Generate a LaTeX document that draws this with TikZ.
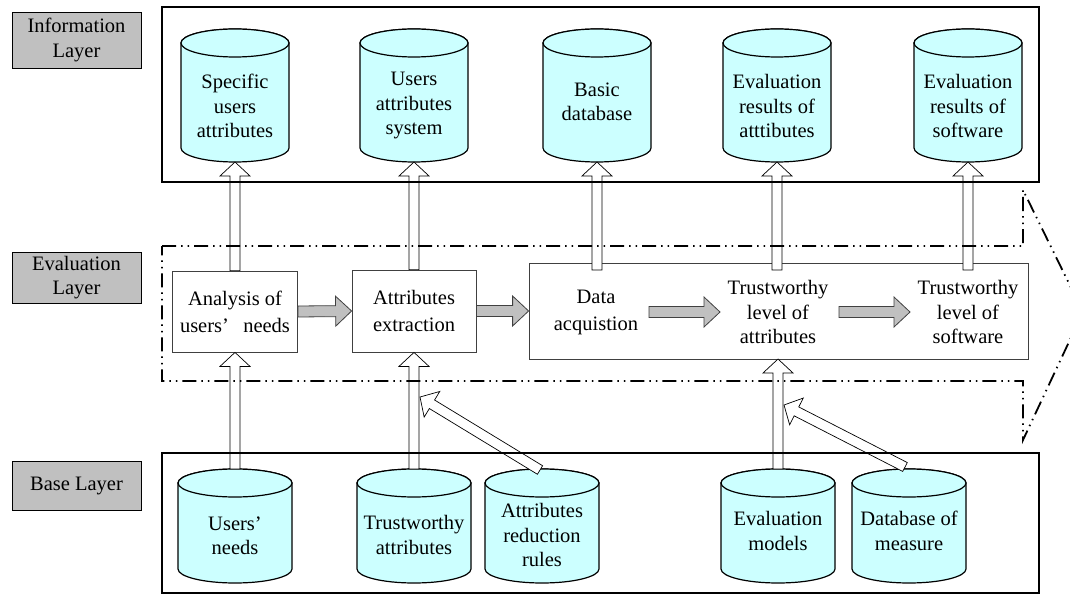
\documentclass[tikz,border=0pt]{standalone}
\usepackage{fontspec}
\setmainfont{Liberation Serif}
\usetikzlibrary{calc}
\definecolor{cylfill}{HTML}{CCFFFF}
\definecolor{lblgray}{HTML}{C0C0C0}
\definecolor{boxline}{HTML}{404040}
\tikzset{
  tfont/.style={font=\fontsize{20.5}{24.5}\selectfont},
  wfont/.style={font=\fontsize{20.5}{27}\selectfont},
  lbl/.style={draw=black, line width=0.8pt, fill=lblgray, minimum width=129pt, align=center, inner sep=0pt, tfont},
  ibox/.style={draw=boxline, line width=0.8pt, fill=white, align=center, inner sep=0pt, wfont},
  txt/.style={align=center, inner sep=0pt, tfont},
  ctext/.style={align=center, inner sep=0pt, tfont},
  cylst/.style={draw=black, line width=1.2pt, fill=cylfill},
  frame/.style={draw=black, line width=1.8pt},
  dashdot/.style={draw=black, line width=1.8pt, dash pattern=on 14pt off 5pt on 1.5pt off 5pt on 1.5pt off 5pt},
  warr/.style={draw=black, line width=0.7pt, fill=white},
  garr/.style={draw=boxline, line width=0.8pt, fill=lblgray},
}
\newcommand\dbcyl[5]{%
  \draw[cylst] ({#2-#5},{#3+14}) -- ({#2-#5},{#4-14})
     arc[start angle=180,end angle=360,x radius=#5pt,y radius=14pt]
     -- ({#2+#5},{#3+14})
     arc[start angle=0,end angle=180,x radius=#5pt,y radius=14pt] -- cycle;
  \draw[cylst] (#2,{#3+14}) ellipse[x radius=#5pt,y radius=14pt];
  \coordinate (#1-top) at (#2,#3);
  \coordinate (#1-bot) at (#2,#4);
}
\newcommand\blockarr[6]{%
  \draw[#1] let \p1=(#2), \p2=(#3), \n1={atan2(\y2-\y1,\x2-\x1)}, \n2={veclen(\x2-\x1,\y2-\y1)} in
    [shift={(\p1)}, rotate=\n1]
    (0pt,{-#4pt}) -- ({(\n2-#6)*1pt},{-#4pt}) -- ({(\n2-#6)*1pt},{-#5pt}) -- ({\n2*1pt},0pt)
    -- ({(\n2-#6)*1pt},{#5pt}) -- ({(\n2-#6)*1pt},{#4pt}) -- (0pt,{#4pt}) -- cycle;
}
\begin{document}
\begin{tikzpicture}[x=1pt,y=-1pt]
\useasboundingbox (0,0) rectangle (1070,596);
\clip (0,0) rectangle (1070,596);

% layer labels
\node[lbl, minimum height=56pt] (infolbl) at (76.5,40) {Information\\Layer};
\node[lbl, minimum height=51pt] (evallbl) at (76.5,277.5) {Evaluation\\Layer};
\node[lbl, minimum height=49pt] (baselbl) at (76.5,486) {Base Layer};

% evaluation boxes
\node[ibox, minimum width=125pt, minimum height=81pt] (anal) at (235,311.5) {Analysis of\\users’\hspace{0.7em}needs};
\node[ibox, minimum width=124pt, minimum height=82pt] (extr) at (414,311) {Attributes\\extraction};
\node[ibox, minimum width=499pt, minimum height=96pt] (big) at (778.5,311) {};
\node[txt, wfont] (acq) at (596,312) {Data\\acquistion};
\node[txt] (tla) at (778,312) {Trustworthy\\level of\\attributes};
\node[txt] (tls) at (968,312) {Trustworthy\\level of\\software};

\coordinate (acq-up) at (597,270);
\coordinate (tla-up) at (777,270);
\coordinate (tls-up) at (968,270);
\coordinate (tla-dn) at (778,359);
\coordinate (g1s) at (649,312);
\coordinate (g1e) at (720,312);
\coordinate (g2s) at (839,312);
\coordinate (g2e) at (910,312);
\coordinate (extr-hit) at (420,397);
\coordinate (tla-hit) at (784,405);
\coordinate (c8-arr) at (540,470);
\coordinate (c10-arr) at (905,467);

% cylinders top
\dbcyl{c1}{235}{29}{162}{54}
\dbcyl{c2}{414}{29}{162}{54}
\dbcyl{c3}{597}{29}{162}{54}
\dbcyl{c4}{777}{29}{162}{54}
\dbcyl{c5}{968}{29}{162}{54}
% cylinders bottom
\dbcyl{c6}{235}{469}{583}{57}
\dbcyl{c7}{414}{469}{583}{57}
\dbcyl{c8}{542}{469}{583}{57}
\dbcyl{c9}{778}{469}{583}{57}
\dbcyl{c10}{909}{469}{583}{57}

\node[ctext] (t1) at (235,106) {Specific\\users\\attributes};
\node[ctext] (t2) at (414,106) {Users\\attributes\\system};
\node[ctext] (t3) at (597,102) {Basic\\database};
\node[ctext] (t4) at (777,106) {Evaluation\\results of\\atttibutes};
\node[ctext] (t5) at (968,106) {Evaluation\\results of\\software};
\node[ctext] (t6) at (235,536) {Users’\\needs};
\node[ctext] (t7) at (414,535) {Trustworthy\\attributes};
\node[ctext] (t8) at (542,535) {Attributes\\reduction\\rules};
\node[ctext] (t9) at (778,531) {Evaluation\\models};
\node[ctext] (t10) at (909,531) {Database of\\measure};

% up arrows to information layer
\blockarr{warr}{anal.north}{c1-bot}{5}{15}{14}
\blockarr{warr}{extr.north}{c2-bot}{5}{15}{14}
\blockarr{warr}{acq-up}{c3-bot}{5}{15}{14}
\blockarr{warr}{tla-up}{c4-bot}{5}{15}{14}
\blockarr{warr}{tls-up}{c5-bot}{5}{15}{14}
% up arrows from base layer
\blockarr{warr}{c6-top}{anal.south}{5}{15}{14}
\blockarr{warr}{c7-top}{extr.south}{5}{15}{14}
\blockarr{warr}{c9-top}{tla-dn}{5}{15}{14}
\blockarr{warr}{c8-arr}{extr-hit}{5}{15}{14}
\blockarr{warr}{c10-arr}{tla-hit}{5}{15}{14}
% gray flow arrows
\blockarr{garr}{anal.east}{extr.west}{5.5}{15}{16}
\blockarr{garr}{extr.east}{big.west}{5.5}{15}{16}
\blockarr{garr}{g1s}{g1e}{5.5}{15}{16}
\blockarr{garr}{g2s}{g2e}{5.5}{15}{16}

% layer frames
\draw[frame] (162,7) rectangle (1039,182);
\draw[frame] (162,453) rectangle (1039,593);
\draw[dashdot] (162,246) -- (1023,246) -- (1023,190) -- (1083,312) -- (1023,440) -- (1023,381) -- (162,381) -- cycle;
\end{tikzpicture}
\end{document}
